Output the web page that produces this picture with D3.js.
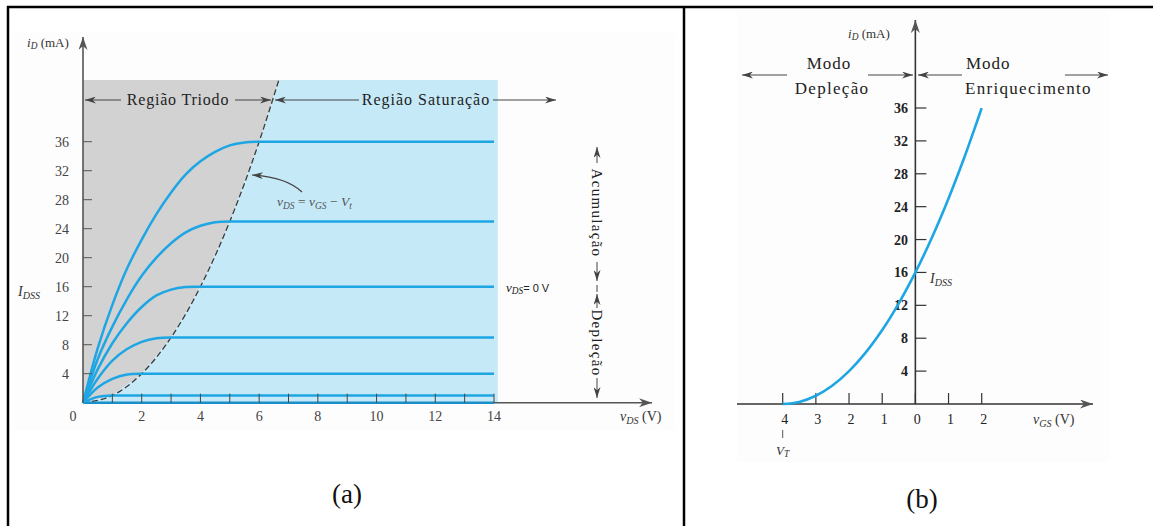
<!DOCTYPE html>
<html>
<head>
<meta charset="utf-8">
<script src="https://cdn.jsdelivr.net/npm/d3@7"></script>
<style>
  body { margin: 0; background: #fff; }
  svg { display: block; }
  text { font-family: "Liberation Serif", "DejaVu Serif", serif; }
</style>
</head>
<body>
<svg id="chart" width="1153" height="526"></svg>
<script>
// ---- panel (a) data : iD x vDS ----
var vdsTicks = [0, 2, 4, 6, 8, 10, 12, 14];
var vdsMinor = [1, 2, 3, 4, 5, 6, 7, 8, 9, 10, 11, 12, 13, 14];
var idTicksA = [4, 8, 12, 16, 20, 24, 28, 32, 36];
var satLevels = [36, 25, 16, 9, 4, 1];
var curve36 = [[0,0],[0.5,7.5],[1,13.5],[1.5,18.5],[2,22.5],[2.5,26],[3,29],[3.5,31.5],[4,33.3],[4.5,34.6],[5,35.5],[5.5,35.9],[6,36]];
var curve25 = [[0,0],[0.5,6],[1,10.5],[1.5,14.3],[2,17.5],[2.5,20],[3,22],[3.5,23.5],[4,24.4],[4.5,24.9],[5,25]];
var curve16 = [[0,0],[0.5,4.6],[1,8.2],[1.5,11],[2,13.2],[2.5,14.8],[3,15.6],[3.5,15.95],[4,16]];
var curve9  = [[0,0],[0.5,3.3],[1,5.8],[1.5,7.4],[2,8.4],[2.5,8.9],[3,9]];
var curve4  = [[0,0],[0.5,2.1],[1,3.3],[1.5,3.9],[2,4]];
var curve1  = [[0,0],[0.5,0.8],[1,1]];
var boundary = [[0,0],[1,1],[2,4],[3,9],[4,16],[5,25],[6,36],[6.67,44.5]];

// ---- panel (b) data : iD x vGS ----
var vgsTicks = [-4, -3, -2, -1, 0, 1, 2];
var idTicksB = [4, 8, 12, 16, 20, 24, 28, 32, 36];
var transfer = [[-4,0],[-3.5,0.25],[-3,1],[-2.5,2.25],[-2,4],[-1.5,6.25],[-1,9],[-0.5,12.25],[0,16],[0.5,20.25],[1,25],[1.5,30.25],[2,36]];

var blue = "#1ea6e4";
var svg = d3.select("#chart");

var defs = svg.append("defs");
function marker(id, w, h, color) {
    defs.append("marker")
        .attr("id", id)
        .attr("viewBox", "0 0 " + w + " " + h)
        .attr("refX", w).attr("refY", h / 2)
        .attr("markerWidth", w).attr("markerHeight", h)
        .attr("markerUnits", "userSpaceOnUse")
        .attr("orient", "auto")
      .append("path")
        .attr("d", "M0,0 L" + w + "," + (h / 2) + " L0," + h + " L" + (w * 0.3) + "," + (h / 2) + " Z")
        .attr("fill", color);
}
marker("arr", 11, 7, "#444");
marker("ax", 13, 9, "#555");

// frame
svg.append("line").attr("x1", 7).attr("x2", 1153).attr("y1", 7).attr("y2", 7).attr("stroke", "#000").attr("stroke-width", 2.5);
svg.append("line").attr("x1", 8).attr("x2", 8).attr("y1", 6).attr("y2", 526).attr("stroke", "#000").attr("stroke-width", 2.5);
svg.append("line").attr("x1", 684).attr("x2", 684).attr("y1", 6).attr("y2", 526).attr("stroke", "#000").attr("stroke-width", 2.5);

// faint scan backgrounds
svg.append("rect").attr("x", 15).attr("y", 33).attr("width", 660).attr("height", 397).attr("fill", "#fdfdfd");
svg.append("rect").attr("x", 737).attr("y", 10).attr("width", 372).attr("height", 452).attr("fill", "#fdfdfd");

// =================== panel (a) ===================
var xa = d3.scaleLinear().domain([0, 14]).range([83, 494]);
var ya = d3.scaleLinear().domain([0, 36]).range([402.7, 141.7]);
var topId = 44.5, rightV = 14.13;

var area = d3.line().x(function(d){ return xa(d[0]); }).y(function(d){ return ya(d[1]); });

// grey triode region (left of boundary)
svg.append("path")
    .attr("d", area(boundary.concat([[0, topId]])) + "Z")
    .attr("fill", "#d2d2d3");
// blue saturation region (right of boundary)
svg.append("path")
    .attr("d", area(boundary.concat([[rightV, topId], [rightV, 0]])) + "Z")
    .attr("fill", "#c6e9f8");

// boundary dashed
svg.append("path")
    .attr("d", d3.line().curve(d3.curveMonotoneX).x(function(d){ return xa(d[0]); }).y(function(d){ return ya(d[1]); })(boundary))
    .attr("fill", "none").attr("stroke", "#3a3a3a").attr("stroke-width", 1.3)
    .attr("stroke-dasharray", "6,3");

// x axis
svg.append("line").attr("x1", xa(0)).attr("x2", 652).attr("y1", ya(0)).attr("y2", ya(0))
    .attr("stroke", "#555").attr("stroke-width", 1.6).attr("marker-end", "url(#ax)");
svg.append("line").attr("x1", xa(0)).attr("x2", xa(14)).attr("y1", ya(0)).attr("y2", ya(0))
    .attr("stroke", "#1b8fc8").attr("stroke-width", 2.4);

// curves
var curveLine = d3.line().curve(d3.curveCatmullRom.alpha(0.5))
    .x(function(d){ return xa(d[0]); }).y(function(d){ return ya(d[1]); });
var curves = [curve36, curve25, curve16, curve9, curve4, curve1];
svg.append("g").selectAll("path")
    .data(curves)
    .enter()
    .append("path")
      .attr("d", function(c, i){ return curveLine(c) + "L" + xa(14) + "," + ya(satLevels[i]); })
      .attr("fill", "none").attr("stroke", blue).attr("stroke-width", 2.5);

// x ticks
svg.append("g").selectAll("line")
    .data(vdsMinor)
    .enter()
    .append("line")
      .attr("x1", function(d){ return xa(d); }).attr("x2", function(d){ return xa(d); })
      .attr("y1", ya(0)).attr("y2", ya(0) - 9)
      .attr("stroke", "#444").attr("stroke-width", 1);
svg.append("g").selectAll("text")
    .data(vdsTicks)
    .enter()
    .append("text")
      .attr("x", function(d){ return d == 0 ? xa(0) - 10 : xa(d); })
      .attr("y", 421)
      .attr("text-anchor", "middle")
      .attr("font-size", 14).attr("fill", "#444")
      .text(function(d){ return d; });

// y axis
svg.append("line").attr("x1", xa(0)).attr("x2", xa(0)).attr("y1", ya(0)).attr("y2", 37)
    .attr("stroke", "#555").attr("stroke-width", 1.6).attr("marker-end", "url(#ax)");
svg.append("g").selectAll("line")
    .data(idTicksA)
    .enter()
    .append("line")
      .attr("x1", xa(0)).attr("x2", xa(0) + 9)
      .attr("y1", function(d){ return ya(d); }).attr("y2", function(d){ return ya(d); })
      .attr("stroke", "#555").attr("stroke-width", 1);
svg.append("g").selectAll("text")
    .data(idTicksA)
    .enter()
    .append("text")
      .attr("x", 69).attr("y", function(d){ return ya(d) + 5; })
      .attr("text-anchor", "end")
      .attr("font-size", 14).attr("fill", "#444")
      .text(function(d){ return d; });

function subText(g, x, y, main, sub, rest, size, color, anchor) {
    var t = g.append("text").attr("x", x).attr("y", y).attr("font-size", size)
        .attr("fill", color).attr("text-anchor", anchor || "start");
    t.append("tspan").attr("font-style", "italic").text(main);
    t.append("tspan").attr("font-style", "italic").attr("font-size", size * 0.72)
        .attr("baseline-shift", "-25%").text(sub);
    if (rest) t.append("tspan").text(rest);
    return t;
}

subText(svg, 27, 47, "i", "D", " (mA)", 13, "#333");
subText(svg, 18, 296, "I", "DSS", null, 14, "#333");
subText(svg, 620, 421, "v", "DS", " (V)", 14, "#333");
var vz = subText(svg, 506, 292, "v", "DS", null, 13, "#222");
vz.append("tspan").attr("font-family", "Liberation Sans, sans-serif").attr("font-size", 11).text("= 0  V");

// region labels
function hArrow(x1, x2, y) {
    svg.append("line").attr("x1", x1).attr("x2", x2).attr("y1", y).attr("y2", y)
        .attr("stroke", "#444").attr("stroke-width", 1).attr("marker-end", "url(#arr)");
}
hArrow(121, 85, 100);
hArrow(235, 271, 100);
hArrow(359, 275, 100);
hArrow(493, 556, 100);
svg.append("text").attr("x", 178).attr("y", 105).attr("text-anchor", "middle")
    .attr("font-size", 16).attr("letter-spacing", 0.8).attr("fill", "#222").text("Região Triodo");
svg.append("text").attr("x", 426).attr("y", 105).attr("text-anchor", "middle")
    .attr("font-size", 16).attr("letter-spacing", 1).attr("fill", "#222").text("Região Saturação");

// boundary annotation
svg.append("path").attr("d", "M302,192 Q286,177 252,175")
    .attr("fill", "none").attr("stroke", "#444").attr("stroke-width", 1.2).attr("marker-end", "url(#arr)");
var ann = svg.append("text").attr("x", 277).attr("y", 206).attr("font-size", 13.5).attr("fill", "#555");
ann.append("tspan").attr("font-style", "italic").text("v");
ann.append("tspan").attr("font-style", "italic").attr("font-size", 9.5).attr("baseline-shift", "-25%").text("DS");
ann.append("tspan").text("  =  ");
ann.append("tspan").attr("font-style", "italic").text("v");
ann.append("tspan").attr("font-style", "italic").attr("font-size", 9.5).attr("baseline-shift", "-25%").text("GS");
ann.append("tspan").text("   −  ");
ann.append("tspan").attr("font-style", "italic").text("V");
ann.append("tspan").attr("font-style", "italic").attr("font-size", 9.5).attr("baseline-shift", "-25%").text("t");

// vertical Acumulação / Depleção
function vArrow(y1, y2) {
    svg.append("line").attr("x1", 597).attr("x2", 597).attr("y1", y1).attr("y2", y2)
        .attr("stroke", "#444").attr("stroke-width", 1).attr("marker-end", "url(#arr)");
}
vArrow(163, 147);
vArrow(262, 281);
svg.append("line").attr("x1", 597).attr("x2", 597).attr("y1", 285).attr("y2", 292).attr("stroke", "#444");
vArrow(308, 294);
vArrow(378, 398);
svg.append("text").attr("transform", "translate(592,213) rotate(90)").attr("text-anchor", "middle")
    .attr("font-size", 15).attr("letter-spacing", 1.3).attr("fill", "#222").text("Acumulação");
svg.append("text").attr("transform", "translate(592,343) rotate(90)").attr("text-anchor", "middle")
    .attr("font-size", 15).attr("letter-spacing", 1.3).attr("fill", "#222").text("Depleção");

svg.append("text").attr("x", 347).attr("y", 503).attr("text-anchor", "middle")
    .attr("font-size", 27).attr("fill", "#111").text("(a)");

// =================== panel (b) ===================
var xb = d3.scaleLinear().domain([-4, 2]).range([782.7, 981.7]);
var yb = d3.scaleLinear().domain([0, 36]).range([404, 108]);

svg.append("line").attr("x1", 737).attr("x2", 1093).attr("y1", yb(0)).attr("y2", yb(0))
    .attr("stroke", "#333").attr("stroke-width", 1.6).attr("marker-end", "url(#ax)");
svg.append("line").attr("x1", xb(0)).attr("x2", xb(0)).attr("y1", yb(0)).attr("y2", 20)
    .attr("stroke", "#333").attr("stroke-width", 1.6).attr("marker-end", "url(#ax)");

svg.append("g").selectAll("line")
    .data(vgsTicks)
    .enter()
    .append("line")
      .attr("x1", function(d){ return xb(d); }).attr("x2", function(d){ return xb(d); })
      .attr("y1", yb(0)).attr("y2", yb(0) - 11)
      .attr("stroke", "#333").attr("stroke-width", 1.2);
svg.append("g").selectAll("text")
    .data(vgsTicks)
    .enter()
    .append("text")
      .attr("x", function(d){ return xb(d) + 2; }).attr("y", 424)
      .attr("text-anchor", "middle")
      .attr("font-family", "Liberation Sans, sans-serif")
      .attr("font-size", 14).attr("fill", "#222")
      .text(function(d){ return Math.abs(d); });

svg.append("g").selectAll("line")
    .data(idTicksB)
    .enter()
    .append("line")
      .attr("x1", xb(0)).attr("x2", xb(0) + 11)
      .attr("y1", function(d){ return yb(d); }).attr("y2", function(d){ return yb(d); })
      .attr("stroke", "#333").attr("stroke-width", 1.2);
svg.append("g").selectAll("text")
    .data(idTicksB)
    .enter()
    .append("text")
      .attr("x", 908).attr("y", function(d){ return yb(d) + 5; })
      .attr("text-anchor", "end")
      .attr("font-family", "Liberation Sans, sans-serif")
      .attr("font-weight", "bold")
      .attr("font-size", 14).attr("fill", "#222")
      .text(function(d){ return d; });

svg.append("path")
    .attr("d", d3.line().curve(d3.curveCatmullRom.alpha(0.5))
        .x(function(d){ return xb(d[0]); }).y(function(d){ return yb(d[1]); })(transfer))
    .attr("fill", "none").attr("stroke", blue).attr("stroke-width", 2.6);

subText(svg, 848, 38, "i", "D", " (mA)", 13, "#333");
subText(svg, 930, 283, "I", "DSS", null, 14, "#333");
subText(svg, 1033, 424, "v", "GS", " (V)", 14, "#333");
svg.append("line").attr("x1", xb(-4)).attr("x2", xb(-4)).attr("y1", 430).attr("y2", 438).attr("stroke", "#555");
subText(svg, 776, 455, "V", "T", null, 13, "#333");

function hArrowB(x1, x2) {
    svg.append("line").attr("x1", x1).attr("x2", x2).attr("y1", 75).attr("y2", 75)
        .attr("stroke", "#444").attr("stroke-width", 1).attr("marker-end", "url(#arr)");
}
hArrowB(787, 742);
hArrowB(868, 913);
hArrowB(962, 918);
hArrowB(1065, 1108);
svg.append("text").attr("x", 829).attr("y", 69).attr("text-anchor", "middle")
    .attr("font-size", 17).attr("letter-spacing", 1).attr("fill", "#222").text("Modo");
svg.append("text").attr("x", 832).attr("y", 94).attr("text-anchor", "middle")
    .attr("font-size", 17).attr("letter-spacing", 1.3).attr("fill", "#222").text("Depleção");
svg.append("text").attr("x", 966).attr("y", 69)
    .attr("font-size", 17).attr("letter-spacing", 1).attr("fill", "#222").text("Modo");
svg.append("text").attr("x", 965).attr("y", 94)
    .attr("font-size", 17).attr("letter-spacing", 1.3).attr("fill", "#222").text("Enriquecimento");

svg.append("text").attr("x", 922).attr("y", 508).attr("text-anchor", "middle")
    .attr("font-size", 27).attr("fill", "#111").text("(b)");
</script>
</body>
</html>
